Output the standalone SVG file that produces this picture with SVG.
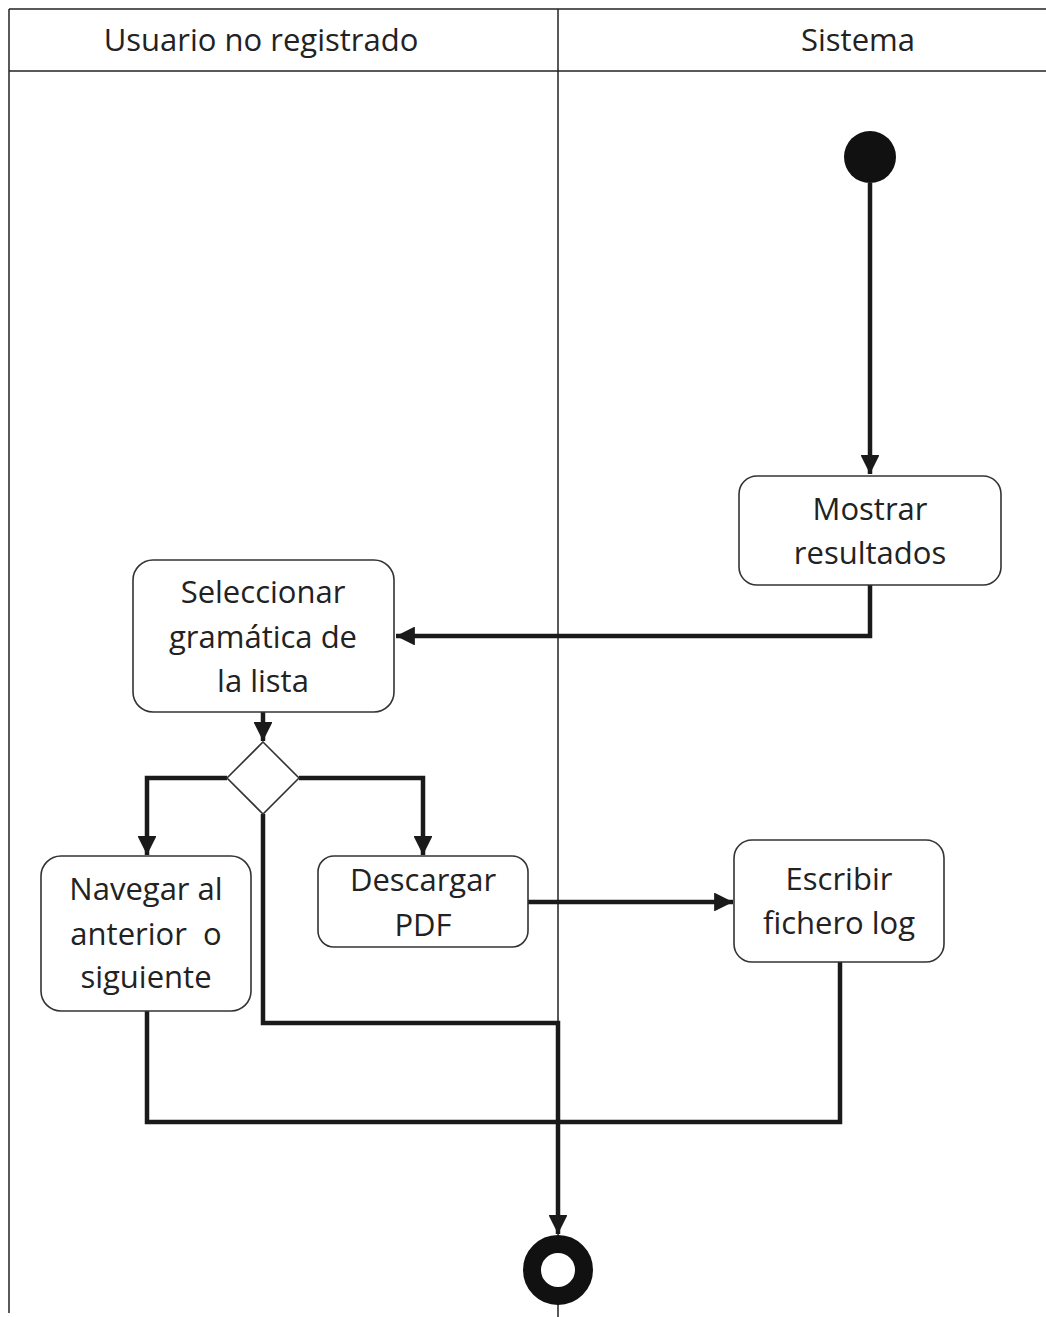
<svg xmlns="http://www.w3.org/2000/svg" width="1046" height="1317" viewBox="0 0 1046 1317">
<style>
.frame{stroke:#222;stroke-width:1.5;fill:none}
.box{fill:#fff;stroke:#333;stroke-width:1.6}
.txt{font-family:"Open Sans","Noto Sans",sans-serif;font-size:31px;fill:#222;text-anchor:middle}
.hdr{font-family:"Open Sans","Noto Sans",sans-serif;font-size:31px;fill:#222;text-anchor:middle}
.edge{stroke:#1a1a1a;stroke-width:4.5;fill:none}
</style>
<defs>
<marker id="ah" viewBox="0 0 10 10" refX="10" refY="5" markerWidth="4.2" markerHeight="4.2" markerUnits="strokeWidth" orient="auto">
<path d="M0,0 L10,5 L0,10 z" fill="#1a1a1a"/>
</marker>
</defs>
<rect width="1046" height="1317" fill="#fff"/>
<g id="swimlanes">
<line class="frame" x1="9" y1="9" x2="1046" y2="9"/>
<line class="frame" x1="9" y1="71" x2="1046" y2="71" stroke-width="2.5"/>
<line class="frame" x1="9" y1="9" x2="9" y2="1313"/>
<line class="frame" x1="558" y1="9" x2="558" y2="1317"/>
<text class="hdr" x="261" y="51">Usuario no registrado</text>
<text class="hdr" x="858" y="51">Sistema</text>
</g>
<g id="connectors">
<path class="edge" d="M870,183 V474" marker-end="url(#ah)"/>
<path class="edge" d="M870,585 V636 H396" marker-end="url(#ah)"/>
<path class="edge" d="M263,712 V741" marker-end="url(#ah)"/>
<path class="edge" d="M227,778 H147 V855" marker-end="url(#ah)"/>
<path class="edge" d="M299,778 H423 V855" marker-end="url(#ah)"/>
<path class="edge" d="M263,814 V1023 H558 V1234" marker-end="url(#ah)"/>
<path class="edge" d="M528,902 H733" marker-end="url(#ah)"/>
<path class="edge" d="M147,1011 V1122 H840 V962"/>
</g>
<g id="start">
<circle cx="870" cy="157" r="26" fill="#111"/>
</g>
<g id="mostrar">
<rect class="box" x="739" y="476" width="262" height="109" rx="18"/>
<text class="txt" x="870" y="520">Mostrar</text>
<text class="txt" x="870" y="564">resultados</text>
</g>
<g id="seleccionar">
<rect class="box" x="133" y="560" width="261" height="152" rx="20"/>
<text class="txt" x="263" y="603">Seleccionar</text>
<text class="txt" x="263" y="648">gramática de</text>
<text class="txt" x="263" y="692">la lista</text>
</g>
<g id="decision">
<polygon points="263,742 299,778 263,814 227,778" fill="#fff" stroke="#333" stroke-width="1.6"/>
</g>
<g id="navegar">
<rect class="box" x="41" y="856" width="210" height="155" rx="20"/>
<text class="txt" x="146" y="900">Navegar al</text>
<text class="txt" x="146" y="945" xml:space="preserve">anterior  o</text>
<text class="txt" x="146" y="988">siguiente</text>
</g>
<g id="descargar">
<rect class="box" x="318" y="856" width="210" height="91" rx="16"/>
<text class="txt" x="423" y="891">Descargar</text>
<text class="txt" x="423" y="936">PDF</text>
</g>
<g id="escribir">
<rect class="box" x="734" y="840" width="210" height="122" rx="18"/>
<text class="txt" x="839" y="890">Escribir</text>
<text class="txt" x="839" y="934">fichero log</text>
</g>
<g id="end">
<circle cx="558" cy="1270" r="26" fill="#fff" stroke="#111" stroke-width="18"/>
</g>
</svg>
